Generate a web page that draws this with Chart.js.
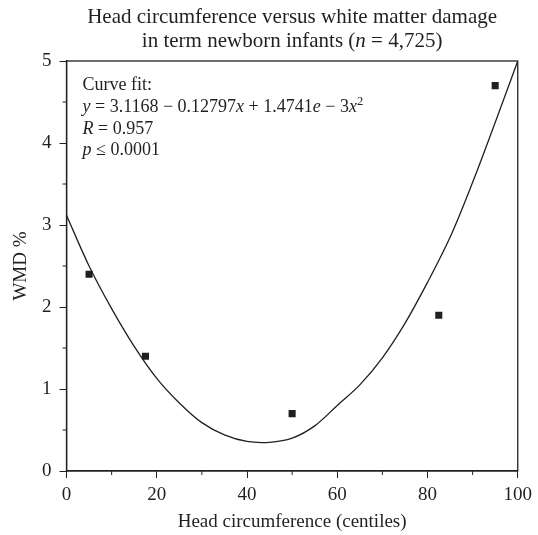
<!DOCTYPE html>
<html lang="en">
<head>
  <meta charset="UTF-8" />
  <title>Head circumference versus white matter damage</title>
  <script src="https://cdn.jsdelivr.net/npm/chart.js"></script>
  <style>
    body { margin: 0; background: #fff; }
  </style>
</head>
<body>
  <canvas id="wmdChart" width="538" height="535"></canvas>

  <script>
    // measured centiles and WMD %
    const pointX = [5, 17.5, 50, 82.5, 95];
    const pointY = [2.4, 1.4, 0.7, 1.9, 4.7];

    // fitted curve
    const curveX = [0, 5, 10, 15, 20, 25, 30, 35, 40, 45, 50, 55, 60, 65, 70, 75, 80, 85, 90, 95, 100];
    const curveY = [3.12, 2.50, 1.98, 1.52, 1.13, 0.83, 0.59, 0.44, 0.36, 0.35, 0.40, 0.55, 0.80, 1.05, 1.38, 1.80, 2.30, 2.85, 3.52, 4.25, 5.00];

    const xTicks = [0, 20, 40, 60, 80, 100];
    const xMinor = [10, 30, 50, 70, 90];
    const yTicks = [0, 1, 2, 3, 4, 5];
    const yMinor = [0.5, 1.5, 2.5, 3.5, 4.5];

    const ink = '#231f20';
    const serif = "'Liberation Serif', 'DejaVu Serif', serif";
    const fontSize = 19;

    // draws text pieces [text, italic, sup] one after another
    function drawRuns(ctx, runs, x, y, size, align) {
      const font = (it, s) => (it ? 'italic ' : '') + s + 'px ' + serif;
      let total = 0;
      runs.forEach(r => {
        ctx.font = font(r[1], r[2] ? size * 0.7 : size);
        total += ctx.measureText(r[0]).width;
      });
      let cx = align === 'center' ? x - total / 2 : x;
      runs.forEach(r => {
        ctx.font = font(r[1], r[2] ? size * 0.7 : size);
        ctx.fillText(r[0], cx, r[2] ? y - size * 0.4 : y);
        cx += ctx.measureText(r[0]).width;
      });
    }

    const decor = {
      id: 'decor',
      afterDraw(chart) {
        const { ctx, chartArea: a, scales: { x, y } } = chart;
        ctx.save();
        ctx.strokeStyle = ink;
        ctx.lineWidth = 1.3;
        ctx.strokeRect(a.left, a.top, a.right - a.left, a.bottom - a.top);

        ctx.lineWidth = 1;
        ctx.beginPath();
        xMinor.forEach(v => {
          const px = x.getPixelForValue(v);
          ctx.moveTo(px, a.bottom);
          ctx.lineTo(px, a.bottom + 4);
        });
        yMinor.forEach(v => {
          const py = y.getPixelForValue(v);
          ctx.moveTo(a.left, py);
          ctx.lineTo(a.left - 4, py);
        });
        ctx.stroke();

        ctx.fillStyle = ink;
        ctx.textAlign = 'left';
        ctx.textBaseline = 'alphabetic';
        const mid = (a.left + a.right) / 2;
        drawRuns(ctx, [['Head circumference versus white matter damage', false]], mid, 23, 21, 'center');
        drawRuns(ctx, [['in term newborn infants (', false], ['n', true], [' = 4,725)', false]], mid, 47, 21, 'center');

        const tx = a.left + 16;
        const fs = 18;
        drawRuns(ctx, [['Curve fit:', false]], tx, 90, fs);
        drawRuns(ctx, [['y', true], [' = 3.1168 \u2212 0.12797', false], ['x', true], [' + 1.4741', false], ['e', true], [' \u2212 3', false], ['x', true], ['2', false, true]], tx, 112, fs);
        drawRuns(ctx, [['R', true], [' = 0.957', false]], tx, 134, fs);
        drawRuns(ctx, [['p', true], [' \u2264 0.0001', false]], tx, 155, fs);
        ctx.restore();
      }
    };

    const axisGrid = {
      display: true,
      drawOnChartArea: false,
      drawTicks: true,
      tickLength: 7,
      tickColor: ink,
      lineWidth: 1
    };

    new Chart(document.getElementById('wmdChart'), {
      type: 'scatter',
      data: {
        datasets: [
          {
            type: 'line',
            data: curveX.map((v, i) => ({ x: v, y: curveY[i] })),
            borderColor: ink,
            borderWidth: 1.3,
            pointRadius: 0,
            tension: 0.35,
            fill: false
          },
          {
            data: pointX.map((v, i) => ({ x: v, y: pointY[i] })),
            pointStyle: 'rect',
            pointRadius: 5,
            backgroundColor: ink,
            borderColor: ink,
            borderWidth: 0
          }
        ]
      },
      options: {
        responsive: false,
        animation: false,
        devicePixelRatio: 1,
        layout: { padding: { top: 61, right: 18, left: 0, bottom: 0 } },
        plugins: {
          legend: { display: false },
          title: { display: false },
          tooltip: { enabled: false }
        },
        scales: {
          x: {
            type: 'linear',
            min: 0,
            max: 100,
            afterBuildTicks: s => { s.ticks = xTicks.map(v => ({ value: v })); },
            afterFit: s => { s.height = 64; },
            grid: axisGrid,
            border: { display: true, color: ink, width: 1.3 },
            ticks: { color: ink, font: { family: serif, size: fontSize }, padding: 6, maxRotation: 0 },
            title: {
              display: true,
              text: 'Head circumference (centiles)',
              color: ink,
              font: { family: serif, size: fontSize },
              padding: { top: 0, bottom: 2 }
            }
          },
          y: {
            type: 'linear',
            min: 0,
            max: 5,
            afterBuildTicks: s => { s.ticks = yTicks.map(v => ({ value: v })); },
            afterFit: s => { s.width = 66.5; },
            grid: axisGrid,
            border: { display: true, color: ink, width: 1.3 },
            ticks: { color: ink, font: { family: serif, size: fontSize }, padding: 8 },
            title: {
              display: true,
              text: 'WMD %',
              color: ink,
              font: { family: serif, size: fontSize },
              padding: { top: 10, bottom: 0 }
            }
          }
        }
      },
      plugins: [decor]
    });
  </script>
</body>
</html>
